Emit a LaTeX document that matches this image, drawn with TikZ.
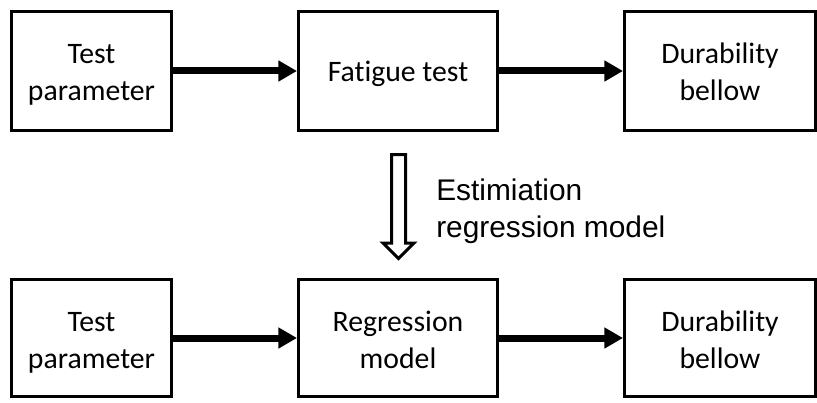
\documentclass[tikz,border=0pt]{standalone}
\usepackage{fontspec}
\setmainfont{Carlito}[Ligatures=NoCommon]
\newfontfamily\lsans{Liberation Sans}
\usetikzlibrary{arrows.meta}
\tikzset{
  blk/.style={draw,line width=2.25pt,align=center,inner sep=0pt,
              font=\fontsize{22.3}{27.5}\selectfont},
  toprow/.style={minimum height=89.25pt,text height=43.5pt,text depth=0pt},
  botrow/.style={minimum height=87.75pt,text height=45pt,text depth=0pt},
  oneline/.style={text height=16.5pt,text depth=0pt},
  flow/.style={line width=5.25pt,-{Triangle[length=14pt,width=15pt]}}
}
\begin{document}
\begin{tikzpicture}[x=0.75pt,y=-0.75pt]
   \useasboundingbox (0,0) rectangle (817,403);
   \node[blk,toprow,minimum width=120pt]    (par1) at ( 91.5, 71) {Test\\parameter};
   \node[blk,toprow,oneline,minimum width=149.25pt] (fat) at (398.0, 71) {Fatigue test};
   \node[blk,toprow,minimum width=143.25pt] (dur1) at (720.0, 71) {Durability\\bellow};
   \node[blk,botrow,minimum width=120pt]    (par2) at ( 91.5,338) {Test\\parameter};
   \node[blk,botrow,minimum width=149.25pt] (reg)  at (398.0,338) {Regression\\model};
   \node[blk,botrow,minimum width=143.25pt] (dur2) at (720.0,338) {Durability\\bellow};
   \draw[flow] (par1) -- (fat);
   \draw[flow] (fat)  -- (dur1);
   \draw[flow] (par2) -- (reg);
   \draw[flow] (reg)  -- (dur2);
   \draw[line width=2.25pt]
    (391.5,154.5) -- (405.5,154.5) -- (405.5,243) -- (414,243) -- (398.5,258.5)
    -- (383,243) -- (391.5,243) -- cycle;
   \node[anchor=west,inner sep=0pt,align=left,
         font=\lsans\fontsize{22.4}{27.75}\selectfont] (est) at (436,211)
    {Estimiation\\regression model};
\end{tikzpicture}
\end{document}
